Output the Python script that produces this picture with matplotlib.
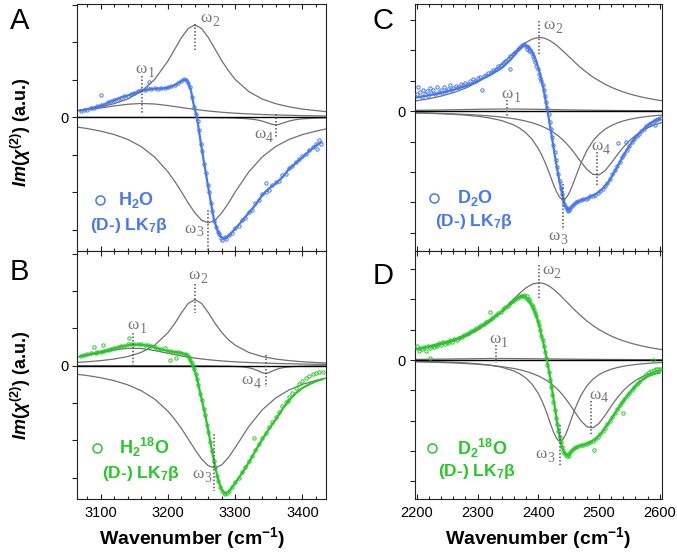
import numpy as np
import matplotlib
matplotlib.use('Agg')
import matplotlib.pyplot as plt
from matplotlib.ticker import MultipleLocator, FuncFormatter

plt.rcParams['font.family'] = ['Liberation Sans', 'DejaVu Sans']
plt.rcParams['mathtext.fontset'] = 'custom'
plt.rcParams['mathtext.rm'] = 'Liberation Sans:bold'
plt.rcParams['mathtext.it'] = 'Liberation Sans:italic:bold'
plt.rcParams['mathtext.bf'] = 'Liberation Sans:bold'

blue = '#4678f0'
green = '#28c828'
grey = '#707070'

# ---------------- fitted components ----------------
wn_ab = [3065, 3080, 3100, 3120, 3140, 3160, 3180, 3200, 3210, 3220, 3230, 3240, 3250,
         3260, 3270, 3280, 3290, 3300, 3320, 3340, 3360, 3380, 3400, 3420, 3435]

a_w1 = [0.171, 0.202, 0.251, 0.304, 0.349, 0.37, 0.356, 0.314, 0.288, 0.261, 0.236, 0.211, 0.189,
        0.169, 0.152, 0.136, 0.122, 0.110, 0.091, 0.075, 0.063, 0.054, 0.046, 0.040, 0.036]
a_w2 = [0.186, 0.22, 0.28, 0.365, 0.49, 0.69, 1.01, 1.51, 1.82, 2.13, 2.37, 2.47, 2.37,
        2.13, 1.82, 1.51, 1.24, 1.01, 0.69, 0.49, 0.365, 0.28, 0.22, 0.18, 0.152]
a_w3 = [-0.26, -0.30, -0.37, -0.46, -0.59, -0.78, -1.06, -1.46, -1.71, -1.99, -2.29, -2.55, -2.75,
        -2.82, -2.75, -2.55, -2.29, -1.99, -1.46, -1.06, -0.78, -0.59, -0.46, -0.37, -0.31]
a_w4_x = [3065, 3200, 3260, 3290, 3310, 3320, 3330, 3340, 3350, 3355, 3360, 3365, 3370,
          3380, 3390, 3400, 3420, 3435]
a_w4 = [-0.001, -0.003, -0.008, -0.014, -0.028, -0.04, -0.062, -0.10, -0.16, -0.188, -0.2, -0.188,
        -0.16, -0.10, -0.062, -0.04, -0.02, -0.013]

b_w1 = [0.226, 0.273, 0.346, 0.419, 0.465, 0.46, 0.405, 0.33, 0.294, 0.26, 0.229, 0.202, 0.179,
        0.159, 0.141, 0.126, 0.113, 0.102, 0.084, 0.070, 0.059, 0.050, 0.043, 0.037, 0.034]
b_w2 = [0.088, 0.104, 0.134, 0.177, 0.244, 0.354, 0.545, 0.885, 1.13, 1.416, 1.666, 1.77, 1.666,
        1.416, 1.13, 0.885, 0.69, 0.545, 0.354, 0.244, 0.177, 0.134, 0.104, 0.083, 0.071]
b_w3 = [-0.232, -0.266, -0.325, -0.404, -0.514, -0.67, -0.895, -1.224, -1.438, -1.686, -1.963,
        -2.248, -2.505, -2.683, -2.74, -2.656, -2.458, -2.192, -1.634, -1.186, -0.869, -0.652,
        -0.501, -0.395, -0.335]
b_w4_x = [3065, 3200, 3260, 3290, 3305, 3315, 3325, 3335, 3340, 3345, 3350, 3355, 3365,
          3375, 3385, 3400, 3420, 3435]
b_w4 = [-0.001, -0.002, -0.006, -0.014, -0.026, -0.042, -0.076, -0.145, -0.189, -0.21, -0.189,
        -0.145, -0.076, -0.042, -0.026, -0.014, -0.008, -0.006]

wn_cd = [2197, 2220, 2240, 2260, 2280, 2300, 2320, 2340, 2360, 2370, 2380, 2390, 2400,
         2405, 2410, 2415, 2420, 2425, 2430, 2435, 2440, 2445, 2450, 2455, 2460,
         2470, 2480, 2490, 2500, 2510, 2520, 2530, 2540, 2550, 2560, 2570, 2580, 2590, 2603]

c_w1 = [0.027, 0.032, 0.038, 0.045, 0.053, 0.06, 0.066, 0.07, 0.07, 0.068, 0.066, 0.063, 0.059,
        0.058, 0.056, 0.054, 0.052, 0.051, 0.048, 0.047, 0.044, 0.043, 0.041, 0.040, 0.038,
        0.035, 0.032, 0.029, 0.027, 0.025, 0.023, 0.021, 0.020, 0.018, 0.017, 0.016, 0.015, 0.014, 0.013]
c_w2 = [0.334, 0.408, 0.494, 0.605, 0.754, 0.95, 1.21, 1.54, 1.92, 2.10, 2.26, 2.37, 2.42,
        2.42, 2.40, 2.36, 2.31, 2.24, 2.17, 2.08, 1.99, 1.90, 1.80, 1.71, 1.61,
        1.43, 1.27, 1.12, 1.00, 0.885, 0.788, 0.704, 0.632, 0.568, 0.514, 0.465, 0.424, 0.387, 0.345]
c_w3 = [-0.059, -0.071, -0.086, -0.105, -0.131, -0.169, -0.225, -0.312, -0.458, -0.569, -0.72, -0.932, -1.227,
        -1.414, -1.631, -1.875, -2.14, -2.407, -2.648, -2.828, -2.908, -2.872, -2.73, -2.509, -2.247,
        -1.725, -1.298, -0.983, -0.758, -0.595, -0.477, -0.39, -0.323, -0.272, -0.232, -0.20, -0.174, -0.152, -0.13]
c_w4 = [-0.057, -0.067, -0.078, -0.091, -0.107, -0.129, -0.157, -0.197, -0.251, -0.287, -0.331, -0.384, -0.45,
        -0.49, -0.533, -0.583, -0.637, -0.70, -0.77, -0.847, -0.936, -1.034, -1.143, -1.262, -1.39,
        -1.661, -1.914, -2.08, -2.097, -1.957, -1.715, -1.443, -1.189, -0.974, -0.80, -0.661, -0.552, -0.466, -0.378]

d_w1 = [0.02, 0.025, 0.03, 0.035, 0.04, 0.045, 0.05, 0.05, 0.048, 0.046, 0.044, 0.042, 0.04,
        0.039, 0.038, 0.037, 0.036, 0.035, 0.034, 0.033, 0.032, 0.031, 0.03, 0.029, 0.028,
        0.026, 0.024, 0.022, 0.021, 0.019, 0.018, 0.017, 0.016, 0.015, 0.014, 0.013, 0.012, 0.012, 0.011]
d_w2 = [0.34, 0.417, 0.505, 0.621, 0.775, 0.983, 1.259, 1.613, 2.019, 2.217, 2.386, 2.503, 2.55,
        2.544, 2.518, 2.474, 2.414, 2.339, 2.254, 2.16, 2.06, 1.958, 1.855, 1.752, 1.652,
        1.462, 1.291, 1.14, 1.007, 0.893, 0.794, 0.708, 0.634, 0.57, 0.515, 0.467, 0.425, 0.388, 0.346]
d_w3 = [-0.042, -0.051, -0.062, -0.076, -0.096, -0.125, -0.169, -0.239, -0.363, -0.461, -0.60, -0.803, -1.102,
        -1.30, -1.536, -1.805, -2.095, -2.372, -2.587, -2.687, -2.643, -2.468, -2.209, -1.92, -1.64,
        -1.178, -0.854, -0.634, -0.485, -0.38, -0.304, -0.249, -0.207, -0.174, -0.149, -0.128, -0.112, -0.098, -0.084]
d_w4 = [-0.06, -0.071, -0.082, -0.096, -0.115, -0.139, -0.172, -0.217, -0.281, -0.324, -0.377, -0.443, -0.525,
        -0.574, -0.63, -0.692, -0.763, -0.843, -0.934, -1.035, -1.149, -1.274, -1.412, -1.558, -1.709,
        -2.0, -2.203, -2.241, -2.097, -1.83, -1.528, -1.248, -1.014, -0.826, -0.679, -0.564, -0.473, -0.402, -0.329]

# ---------------- total fits ----------------
a_fit = [(3070, 0.18), (3085, 0.24), (3100, 0.31), (3115, 0.42), (3130, 0.53), (3145, 0.61), (3160, 0.71),
         (3175, 0.76), (3190, 0.77), (3200, 0.79), (3210, 0.86), (3218, 0.95), (3224, 1.01), (3229, 0.97),
         (3234, 0.72), (3238, 0.35), (3243, 0.0), (3248, -0.6), (3253, -1.15), (3258, -1.68), (3263, -2.2),
         (3268, -2.7), (3273, -3.0), (3278, -3.18), (3283, -3.24), (3290, -3.17), (3300, -2.97), (3310, -2.77),
         (3320, -2.55), (3330, -2.34), (3340, -2.08), (3350, -1.9), (3360, -1.77), (3370, -1.6), (3380, -1.38),
         (3390, -1.22), (3400, -1.07), (3410, -0.9), (3420, -0.76), (3428, -0.66)]
b_fit = [(3070, 0.26), (3085, 0.31), (3100, 0.37), (3115, 0.44), (3130, 0.51), (3145, 0.56), (3160, 0.56),
         (3175, 0.52), (3190, 0.43), (3200, 0.39), (3210, 0.36), (3220, 0.34), (3228, 0.29), (3233, 0.16),
         (3237, 0.0), (3241, -0.2), (3245, -0.5), (3250, -0.9), (3255, -1.3), (3260, -1.75), (3265, -2.25),
         (3270, -2.7), (3275, -3.08), (3280, -3.33), (3285, -3.42), (3290, -3.38), (3300, -3.14), (3310, -2.88),
         (3320, -2.6), (3330, -2.28), (3340, -1.98), (3350, -1.7), (3360, -1.45), (3370, -1.17), (3380, -0.93),
         (3390, -0.74), (3400, -0.6), (3410, -0.5), (3420, -0.42), (3430, -0.36)]
c_fit = [(2200, 0.45), (2220, 0.52), (2240, 0.6), (2260, 0.7), (2280, 0.82), (2300, 0.98), (2320, 1.18),
         (2340, 1.42), (2355, 1.7), (2365, 1.95), (2372, 2.1), (2378, 2.17), (2384, 2.12), (2390, 1.95),
         (2396, 1.68), (2402, 1.3), (2408, 0.8), (2414, 0.15), (2420, -0.55), (2426, -1.3), (2432, -2.0),
         (2438, -2.6), (2444, -3.1), (2450, -3.28), (2456, -3.12), (2465, -2.98), (2475, -2.9), (2485, -2.82),
         (2495, -2.72), (2505, -2.57), (2515, -2.35), (2525, -2.02), (2535, -1.65), (2545, -1.3), (2555, -1.0),
         (2565, -0.76), (2575, -0.56), (2585, -0.4), (2595, -0.28), (2600, -0.24)]
d_fit = [(2200, 0.36), (2220, 0.45), (2240, 0.55), (2260, 0.66), (2280, 0.83), (2300, 1.04), (2320, 1.3),
         (2340, 1.6), (2355, 1.85), (2365, 2.03), (2372, 2.1), (2378, 2.1), (2384, 1.98), (2390, 1.78),
         (2396, 1.52), (2402, 1.1), (2408, 0.6), (2414, 0.05), (2420, -0.62), (2426, -1.38), (2432, -2.2),
         (2438, -2.8), (2444, -3.1), (2450, -3.15), (2456, -2.98), (2465, -2.86), (2475, -2.8), (2485, -2.72),
         (2495, -2.6), (2505, -2.38), (2515, -2.1), (2525, -1.8), (2535, -1.5), (2545, -1.22), (2555, -0.98),
         (2565, -0.76), (2575, -0.6), (2585, -0.5), (2595, -0.44), (2600, -0.42)]

# ---------------- measured points ----------------
a_pts = [(3070, 0.17), (3075, 0.20), (3080, 0.19), (3085, 0.26), (3090, 0.25), (3095, 0.30), (3100, 0.60),
         (3100, 0.33), (3105, 0.34), (3110, 0.40), (3115, 0.44), (3120, 0.45), (3125, 0.50), (3130, 0.52),
         (3135, 0.57), (3140, 0.58), (3145, 0.63), (3150, 0.64), (3155, 0.70), (3160, 0.74), (3165, 0.72),
         (3170, 0.77), (3172, 0.95), (3175, 0.75), (3180, 0.78), (3185, 0.76), (3190, 0.79), (3195, 0.77),
         (3200, 0.80), (3205, 0.83), (3210, 0.87), (3215, 0.92), (3220, 0.97), (3224, 1.03), (3227, 1.00),
         (3230, 0.93), (3233, 0.80), (3236, 0.55), (3239, 0.28), (3241, 0.10), (3244, -0.10), (3246, -0.35),
         (3249, -0.70), (3251, -0.90), (3254, -1.25), (3256, -1.50), (3259, -1.80), (3261, -2.00),
         (3264, -2.30), (3266, -2.50), (3269, -2.78), (3271, -2.92), (3274, -3.05), (3276, -3.12),
         (3279, -3.22), (3281, -3.28), (3284, -3.20), (3286, -3.26), (3290, -3.14), (3295, -3.10),
         (3300, -2.95), (3305, -2.90), (3310, -2.75), (3315, -2.68), (3320, -2.52), (3325, -2.47),
         (3330, -2.30), (3335, -2.22), (3340, -2.05), (3345, -1.75), (3345, -2.00), (3350, -1.93),
         (3355, -1.82), (3360, -1.72), (3365, -1.70), (3370, -1.55), (3375, -1.52), (3380, -1.35),
         (3385, -1.30), (3390, -1.20), (3395, -1.12), (3400, -1.03), (3405, -0.98), (3410, -0.86),
         (3415, -0.80), (3420, -0.70), (3422, -0.85), (3425, -0.60), (3428, -0.72)]
b_pts = [(3070, 0.27), (3075, 0.29), (3080, 0.30), (3085, 0.33), (3090, 0.50), (3093, 0.34), (3095, 0.36),
         (3100, 0.37), (3103, 0.55), (3105, 0.39), (3110, 0.41), (3115, 0.45), (3120, 0.47), (3125, 0.50),
         (3130, 0.52), (3135, 0.53), (3140, 0.58), (3142, 0.74), (3145, 0.57), (3150, 0.59), (3155, 0.58),
         (3160, 0.57), (3165, 0.56), (3170, 0.54), (3175, 0.53), (3180, 0.49), (3185, 0.45), (3190, 0.44),
         (3195, 0.46), (3200, 0.40), (3203, 0.15), (3205, 0.38), (3210, 0.37), (3212, 0.20), (3215, 0.36),
         (3220, 0.35), (3225, 0.32), (3228, 0.28), (3231, 0.22), (3233, 0.15), (3235, 0.08), (3237, 0.0),
         (3239, -0.10), (3241, -0.22), (3243, -0.35), (3245, -0.52), (3248, -0.75), (3250, -0.92),
         (3253, -1.15), (3255, -1.32), (3258, -1.58), (3260, -1.78), (3263, -2.05), (3265, -2.28),
         (3268, -2.55), (3270, -2.72), (3273, -2.95), (3275, -3.10), (3278, -3.25), (3280, -3.35),
         (3283, -3.42), (3285, -3.45), (3288, -3.40), (3290, -3.36), (3295, -3.25), (3300, -3.12),
         (3305, -3.00), (3310, -2.86), (3315, -2.72), (3320, -2.56), (3325, -2.42), (3328, -1.95),
         (3330, -2.25), (3335, -2.10), (3340, -1.94), (3345, -1.80), (3350, -1.64), (3355, -1.52),
         (3360, -1.38), (3365, -1.25), (3370, -1.08), (3375, -0.98), (3378, -0.95), (3380, -0.84),
         (3385, -0.72), (3390, -0.60), (3395, -0.50), (3400, -0.40), (3405, -0.33), (3410, -0.27),
         (3415, -0.22), (3420, -0.19), (3425, -0.17), (3430, -0.16)]
c_pts = [(2200, 0.55), (2202, 0.80), (2205, 0.62), (2208, 0.45), (2210, 0.70), (2213, 0.58), (2216, 0.66),
         (2218, 0.50), (2221, 0.75), (2224, 0.60), (2227, 0.68), (2230, 0.55), (2233, 0.80), (2236, 0.62),
         (2239, 0.70), (2242, 0.60), (2245, 0.78), (2248, 0.66), (2251, 0.72), (2254, 0.85), (2257, 0.70),
         (2260, 0.75), (2264, 0.82), (2268, 0.78), (2272, 0.88), (2276, 0.85), (2280, 0.92), (2284, 0.90),
         (2288, 0.98), (2292, 1.05), (2296, 1.00), (2300, 1.08), (2304, 1.12), (2308, 0.70), (2310, 1.15),
         (2314, 1.20), (2318, 1.25), (2322, 1.30), (2326, 1.35), (2330, 1.40), (2334, 1.47), (2338, 1.52),
         (2342, 1.58), (2346, 1.65), (2350, 1.72), (2353, 1.40), (2354, 1.80), (2358, 1.88), (2362, 1.95),
         (2366, 2.03), (2370, 2.10), (2373, 2.18), (2376, 2.20), (2379, 2.15), (2381, 2.05), (2383, 2.12),
         (2385, 1.98), (2387, 2.02), (2389, 1.90), (2391, 1.80), (2393, 1.72), (2395, 1.60), (2397, 1.50),
         (2399, 1.38), (2401, 1.22), (2403, 1.10), (2405, 0.98), (2407, 0.85), (2409, 0.68), (2411, 0.50),
         (2413, 0.30), (2415, 0.10), (2417, -0.10), (2419, -0.35), (2421, -0.60), (2423, -0.85),
         (2425, -1.10), (2427, -1.35), (2429, -1.60), (2431, -1.85), (2433, -2.08), (2435, -2.30),
         (2437, -2.52), (2439, -2.72), (2441, -2.90), (2443, -3.05), (2445, -3.15), (2447, -3.22),
         (2449, -3.28), (2451, -3.25), (2453, -3.20), (2456, -3.12), (2459, -3.05), (2462, -3.00),
         (2466, -2.97), (2470, -2.93), (2474, -2.90), (2478, -2.88), (2482, -2.85), (2486, -2.80),
         (2490, -2.78), (2494, -2.75), (2498, -2.70), (2502, -2.62), (2506, -2.55), (2510, -2.45),
         (2514, -2.35), (2518, -2.22), (2522, -2.08), (2526, -1.95), (2530, -1.80), (2532, -1.05),
         (2534, -1.68), (2538, -1.52), (2542, -1.40), (2545, -1.00), (2546, -1.28), (2550, -1.15),
         (2554, -1.02), (2558, -0.92), (2562, -0.82), (2566, -0.74), (2570, -0.65), (2574, -0.58),
         (2578, -0.50), (2582, -0.43), (2586, -0.38), (2590, -0.32), (2592, -0.45), (2594, -0.28),
         (2598, -0.25), (2600, -0.22)]
d_pts = [(2200, 0.45), (2203, 0.30), (2206, 0.40), (2209, 0.35), (2212, 0.42), (2215, 0.30), (2218, 0.45),
         (2221, 0.08), (2222, 0.40), (2225, 0.47), (2228, 0.42), (2231, 0.50), (2234, 0.45), (2237, 0.55),
         (2240, 0.50), (2243, 0.58), (2246, 0.52), (2249, 0.60), (2252, 0.57), (2255, 0.65), (2258, 0.60),
         (2262, 0.68), (2266, 0.66), (2270, 0.74), (2274, 0.76), (2278, 0.82), (2282, 0.86), (2286, 0.90),
         (2290, 0.95), (2294, 1.00), (2298, 1.05), (2302, 1.10), (2306, 1.15), (2310, 1.20), (2314, 1.25),
         (2318, 1.30), (2320, 1.60), (2322, 1.35), (2326, 1.42), (2330, 1.48), (2334, 1.55), (2338, 1.60),
         (2342, 1.67), (2346, 1.74), (2350, 1.80), (2354, 1.88), (2358, 1.95), (2362, 2.00), (2366, 2.05),
         (2369, 2.10), (2372, 2.13), (2375, 2.12), (2377, 2.15), (2379, 2.06), (2381, 2.10), (2383, 1.98),
         (2385, 2.00), (2387, 1.90), (2389, 1.82), (2391, 1.75), (2393, 1.65), (2395, 1.55), (2397, 1.45),
         (2399, 1.30), (2401, 1.15), (2403, 0.98), (2405, 0.80), (2407, 0.65), (2409, 0.45), (2411, 0.25),
         (2413, 0.05), (2415, -0.15), (2417, -0.40), (2419, -0.65), (2421, -0.90), (2423, -1.15),
         (2425, -1.40), (2427, -1.65), (2429, -1.90), (2431, -2.12), (2433, -2.35), (2435, -2.55),
         (2437, -2.72), (2439, -2.88), (2441, -3.00), (2443, -3.08), (2445, -3.15), (2447, -3.18),
         (2449, -3.12), (2451, -3.16), (2453, -3.05), (2456, -2.98), (2459, -2.92), (2462, -2.88),
         (2466, -2.85), (2470, -2.82), (2474, -2.80), (2478, -2.78), (2482, -2.75), (2486, -2.72),
         (2490, -2.68), (2492, -2.97), (2494, -2.62), (2498, -2.55), (2502, -2.45), (2506, -2.35),
         (2510, -2.25), (2514, -2.12), (2518, -2.00), (2522, -1.88), (2526, -1.76), (2530, -1.62),
         (2534, -1.50), (2538, -1.40), (2540, -1.76), (2542, -1.30), (2546, -1.20), (2550, -1.10),
         (2554, -1.00), (2558, -0.90), (2562, -0.80), (2566, -0.72), (2570, -0.62), (2574, -0.55),
         (2578, -0.47), (2582, -0.40), (2586, -0.35), (2589, 0.0), (2590, -0.32), (2594, -0.30),
         (2598, -0.31), (2600, -0.30)]

sample_names = [['H$_2$O', '(D-) LK$_7$β'], ['H$_2$$^{18}$O', '(D-) LK$_7$β'],
                ['D$_2$O', '(D-) LK$_7$β'], ['D$_2$$^{18}$O', '(D-) LK$_7$β']]

W, H = 677, 557
fig = plt.figure(figsize=(W / 100, H / 100), dpi=100)


def box(l, t, r, b):
    return [l / W, 1 - b / H, (r - l) / W, (b - t) / H]


axA = fig.add_axes(box(77.3, 3.5, 326, 251))
axB = fig.add_axes(box(77.3, 251, 326, 499.3))
axC = fig.add_axes(box(415, 3.5, 661.5, 251))
axD = fig.add_axes(box(415, 251, 661.5, 499.3))


def setup(ax, xlim, ylim, yt, xmaj, show_x):
    ax.set_xlim(xlim)
    ax.set_ylim(ylim)
    ax.set_xticks(xmaj)
    ax.xaxis.set_minor_locator(MultipleLocator(20))
    ax.set_yticks(yt)
    ax.yaxis.set_major_formatter(FuncFormatter(lambda v, p: '0' if abs(v) < 1e-9 else ''))
    ax.tick_params(axis='x', which='both', direction='in', top=True, bottom=True,
                   labelbottom=show_x, labelsize=10.5, pad=5, width=0.8, color='#222')
    ax.tick_params(axis='x', which='major', length=3.8)
    ax.tick_params(axis='x', which='minor', length=2.5)
    ax.tick_params(axis='y', which='major', direction='out', length=3.6, width=0.8,
                   labelsize=10.5, pad=3, right=False, color='#222')
    for s in ax.spines.values():
        s.set_linewidth(0.8)
        s.set_color('#222')


def omega(ax, num, tx, ty):
    serif = ['Liberation Serif', 'DejaVu Serif']
    ax.text(tx, ty, 'ω', color='#777777', fontsize=12.5, ha='left', va='center',
            family=serif, zorder=6)
    ax.annotate(num, (tx, ty), xytext=(8.6, -3.2), textcoords='offset points',
                color='#777777', fontsize=10, ha='left', va='center', family=serif, zorder=6)


def draw(ax, wn, comps, w4x, fit, pts, color, marks):
    for c in comps:
        ax.plot(wn, c, color=grey, lw=0.9, zorder=1)
    if w4x is not None:
        ax.plot(w4x[0], w4x[1], color=grey, lw=0.9, zorder=1)
    ax.axhline(0, color='k', lw=1.0, zorder=2)
    fx, fy = np.array(fit).T
    ax.plot(fx, fy, color=color, lw=1.6, zorder=3)
    px, py = np.array(pts).T
    ax.plot(px, py, 'o', ms=2.4, mfc='none', mec=color, mew=0.7, zorder=4)
    for num, x, y0, y1, tx, ty in marks:
        ax.plot([x, x], [y0, y1], color='#555555', lw=1.1, ls=(0, (1, 1.3)), zorder=5)
        omega(ax, num, tx, ty)


def legend(ax, names, color, cx, cy, tx, ty2, ty):
    ax.plot([cx], [cy], 'o', ms=6.5, mfc='none', mec=color, mew=1.1, transform=ax.transAxes)
    ax.text(tx, cy, names[0], color=color, fontsize=13, fontweight='bold',
            ha='left', va='center', transform=ax.transAxes)
    ax.text(ty2, ty, names[1], color=color, fontsize=12.5, fontweight='bold',
            ha='left', va='center', transform=ax.transAxes)


draw(axA, wn_ab, [a_w1, a_w2, a_w3], (a_w4_x, a_w4), a_fit, a_pts, blue,
     [('1', 3162, 1.1, 0.12, 3152, 1.3), ('2', 3240, 2.5, 1.8, 3248, 2.65),
      ('3', 3260, -2.48, -3.55, 3224, -2.97), ('4', 3360, 0.1, -0.52, 3328, -0.45)])
draw(axB, wn_ab, [b_w1, b_w2, b_w3], (b_w4_x, b_w4), b_fit, b_pts, green,
     [('1', 3148, 0.87, -0.03, 3140, 1.08), ('2', 3240, 2.19, 1.41, 3230, 2.42),
      ('3', 3269, -1.82, -3.35, 3236, -2.91), ('4', 3345, 0.29, -0.57, 3309, -0.38)])
draw(axC, wn_cd, [c_w1, c_w2, c_w3, c_w4], None, c_fit, c_pts, blue,
     [('1', 2349, 0.36, -0.19, 2340, 0.57), ('2', 2402, 2.95, 1.85, 2409, 2.84),
      ('3', 2441, -2.38, -3.92, 2416, -4.12), ('4', 2496, -1.34, -2.49, 2487, -1.14)])
draw(axD, wn_cd, [d_w1, d_w2, d_w3, d_w4], None, d_fit, d_pts, green,
     [('1', 2330, 0.49, -0.11, 2319, 0.70), ('2', 2401, 3.13, 1.98, 2406, 2.97),
      ('3', 2436, -2.14, -3.52, 2395, -3.11), ('4', 2487, -1.37, -2.47, 2484, -1.14)])

setup(axA, (3065, 3435), (-3.57, 3.04), range(-3, 4), [3100, 3200, 3300, 3400], False)
setup(axB, (3065, 3435), (-3.58, 3.07), range(-3, 4), [3100, 3200, 3300, 3400], True)
setup(axC, (2197, 2603), (-4.6, 3.54), range(-4, 4), [2200, 2300, 2400, 2500, 2600], False)
setup(axD, (2197, 2603), (-4.6, 3.6), range(-4, 4), [2200, 2300, 2400, 2500, 2600], True)

legend(axA, sample_names[0], blue, 0.091, 0.206, 0.164, 0.051, 0.105)
legend(axB, sample_names[1], green, 0.078, 0.208, 0.169, 0.098, 0.105)
legend(axC, sample_names[2], blue, 0.077, 0.213, 0.172, 0.081, 0.118)
legend(axD, sample_names[3], green, 0.068, 0.205, 0.170, 0.095, 0.111)

ylab = r'$Im(\chi^{(2)})$ (a.u.)'
for ax, yc in [(axA, 0.48), (axB, 0.46)]:
    ax.set_ylabel(ylab, fontsize=13, fontweight='bold')
    ax.yaxis.set_label_coords(-0.18, yc)

for ax, xc in [(axB, 0.46), (axD, 0.5)]:
    ax.set_xlabel('Wavenumber (cm$^{-1}$)', fontsize=14, fontweight='bold')
    ax.xaxis.set_label_coords(xc, -0.156)
    ax.xaxis.label.set_va('center')

for lab, x, y in [('A', 10, 7), ('B', 10, 258), ('C', 373, 7), ('D', 373, 262)]:
    fig.text(x / W, 1 - y / H, lab, fontsize=21, ha='left', va='top')

fig.savefig('out.png', dpi=100)
